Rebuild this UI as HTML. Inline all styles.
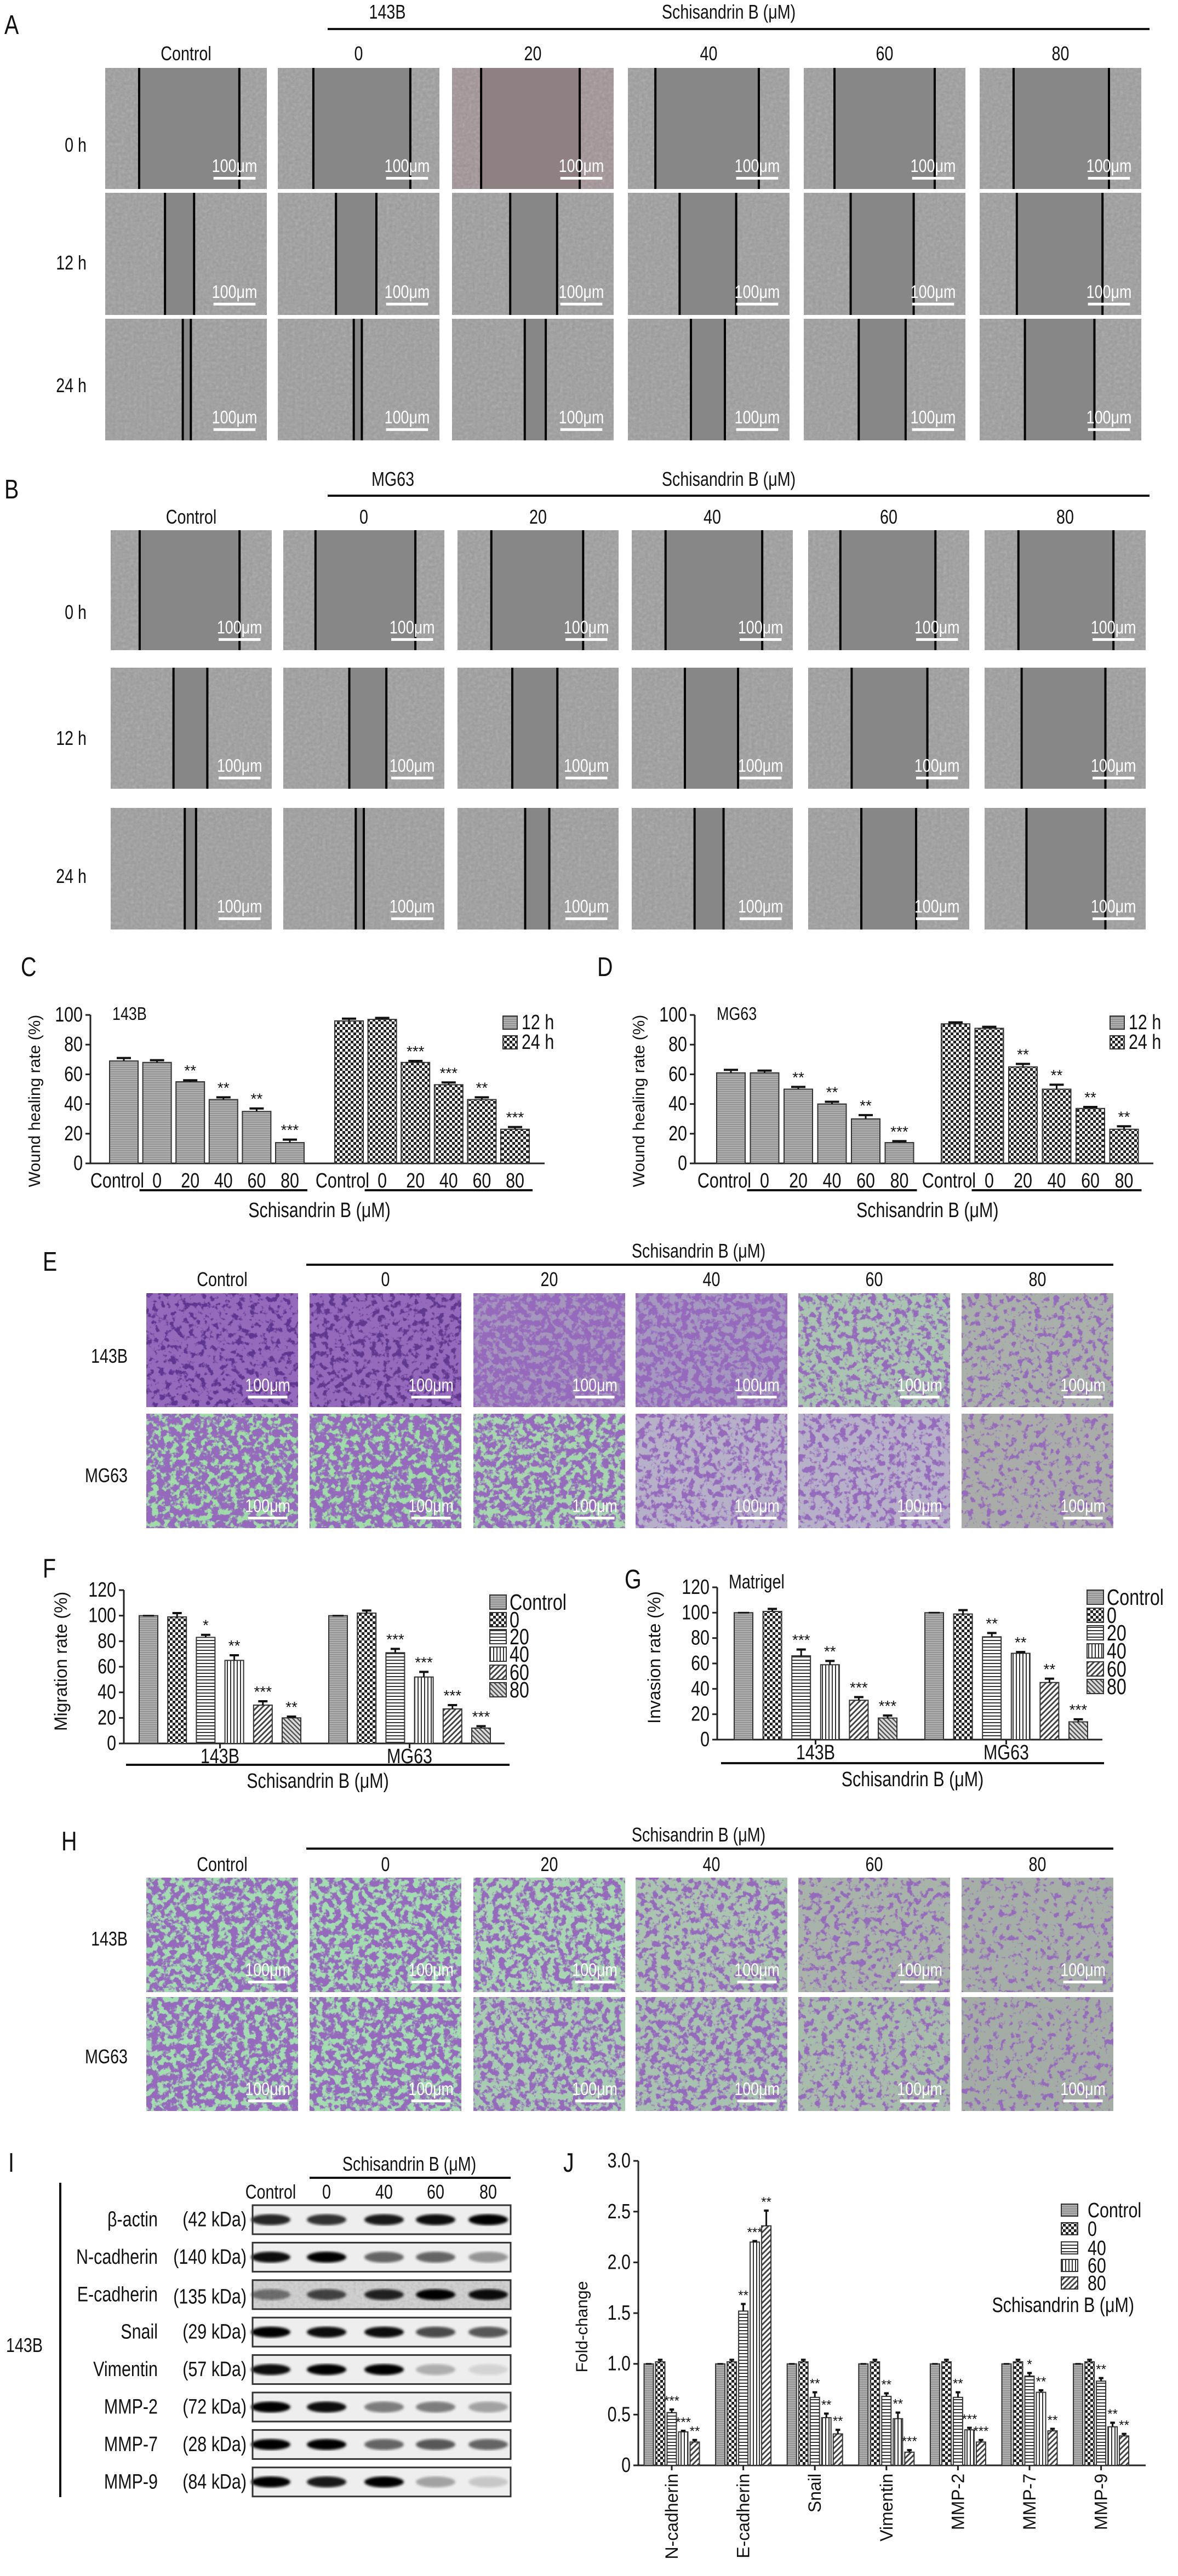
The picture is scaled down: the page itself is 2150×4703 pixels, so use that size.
<!DOCTYPE html>
<html><head><meta charset="utf-8">
<style>
html,body{margin:0;padding:0;background:#fff;}
svg{display:block;}
text{font-family:"Liberation Sans Narrow","Liberation Sans",sans-serif;fill:#111;}
.reg{font-family:"Liberation Sans",sans-serif;}
</style></head>
<body>
<svg id="fig" xmlns="http://www.w3.org/2000/svg" width="2150" height="4703" viewBox="0 0 2150 4703">
<defs>
<filter id="noise" x="0" y="0" width="100%" height="100%"><feTurbulence type="fractalNoise" baseFrequency="0.18" numOctaves="2" seed="3"/><feColorMatrix type="saturate" values="0"/></filter>
<filter id="blur3"><feGaussianBlur stdDeviation="2.5"/></filter>
<pattern id="pGray" width="4" height="4" patternUnits="userSpaceOnUse"><rect width="4" height="4" fill="#b0b0b0"/><rect width="4" height="1.5" fill="#8a8a8a"/></pattern>
<pattern id="pCheck" width="10" height="10" patternUnits="userSpaceOnUse"><rect width="10" height="10" fill="#fff"/><rect width="5" height="5" fill="#222"/><rect x="5" y="5" width="5" height="5" fill="#222"/></pattern>
<pattern id="pH" width="6" height="6" patternUnits="userSpaceOnUse"><rect width="6" height="6" fill="#fff"/><rect width="6" height="2" fill="#333"/></pattern>
<pattern id="pV" width="6" height="6" patternUnits="userSpaceOnUse"><rect width="6" height="6" fill="#fff"/><rect width="2" height="6" fill="#333"/></pattern>
<pattern id="pD" width="7" height="7" patternUnits="userSpaceOnUse" patternTransform="rotate(45)"><rect width="7" height="7" fill="#fff"/><rect width="3" height="7" fill="#444"/></pattern>
<pattern id="pD2" width="6" height="6" patternUnits="userSpaceOnUse" patternTransform="rotate(-45)"><rect width="6" height="6" fill="#ddd"/><rect width="2.5" height="6" fill="#555"/></pattern>
</defs>
</svg>
<script>
// ---------- chart data ----------
const cCats = ["Control","0","20","40","60","80"];
const c12 = [69,68,55,43,35,14];
const c24 = [96,97,68,53,43,23];
const c12Err = [2,1.5,1,1.5,2,2];
const c24Err = [1.5,1,1,1.5,1.5,1.5];
const c12Sig = ["","","**","**","**","***"];
const c24Sig = ["","","***","***","**","***"];
const d12 = [61,61,50,40,30,14];
const d24 = [94,91,65,50,37,23];
const d12Err = [2,1.5,1.5,1.5,2.5,1];
const d24Err = [1,1,2,3,1,2];
const d12Sig = ["","","**","**","**","***"];
const d24Sig = ["","","**","**","**","**"];
const woundTicks = [0,20,40,60,80,100];

const fGroups = ["143B","MG63"];
const fLegend = ["Control","0","20","40","60","80"];
const f143 = [100,99,83,65,30,20];
const fMG = [100,102,71,52,27,12];
const f143Err = [0,3,2,4,3,1];
const fMGErr = [0,2,3,4,3,1.5];
const f143Sig = ["","","*","**","***","**"];
const fMGSig = ["","","***","***","***","***"];
const g143 = [100,101,66,59,31,17];
const gMG = [100,99,81,68,45,14];
const g143Err = [0,2,5,3,2.5,2];
const gMGErr = [0,3,3,1,3,2];
const g143Sig = ["","","***","**","***","***"];
const gMGSig = ["","","**","**","**","***"];
const migTicks = [0,20,40,60,80,100,120];

const jCats = ["N-cadherin","E-cadherin","Snail","Vimentin","MMP-2","MMP-7","MMP-9"];
const jLegend = ["Control","0","40","60","80"];
const jCtrl = [1.0,1.0,1.0,1.0,1.0,1.0,1.0];
const j0 = [1.02,1.02,1.02,1.02,1.02,1.02,1.02];
const j40 = [0.52,1.52,0.67,0.68,0.67,0.88,0.83];
const j60 = [0.33,2.2,0.47,0.46,0.35,0.72,0.38];
const j80 = [0.23,2.36,0.31,0.13,0.23,0.34,0.29];
const jErr40 = [0.03,0.07,0.05,0.03,0.05,0.03,0.03];
const jErr60 = [0.01,0.01,0.04,0.06,0.02,0.02,0.04];
const jErr80 = [0.02,0.15,0.04,0.02,0.02,0.02,0.02];
const jSig40 = ["***","**","**","**","**","*","**"];
const jSig60 = ["***","***","**","**","***","**","**"];
const jSig80 = ["**","**","**","***","***","**","**"];
const jTicks = [0,0.5,1.0,1.5,2.0,2.5,3.0];
const jTickLabels = ["0","0.5","1.0","1.5","2.0","2.5","3.0"];

const blotNames = ["β-actin","N-cadherin","E-cadherin","Snail","Vimentin","MMP-2","MMP-7","MMP-9"];
const blotKda = ["(42 kDa)","(140 kDa)","(135 kDa)","(29 kDa)","(57 kDa)","(72 kDa)","(28 kDa)","(84 kDa)"];
const blotLanes = ["Control","0","40","60","80"];
const blotInt = [
 [0.8,0.75,0.85,0.9,0.95],
 [0.9,0.95,0.55,0.55,0.35],
 [0.45,0.65,0.8,0.95,0.9],
 [0.95,0.9,0.9,0.65,0.6],
 [0.9,0.95,0.95,0.25,0.1],
 [0.95,0.9,0.45,0.45,0.3],
 [0.95,0.95,0.55,0.6,0.55],
 [0.95,0.85,0.95,0.3,0.15]];

// ---------- helpers ----------
const NS="http://www.w3.org/2000/svg";
const svg=document.getElementById('fig');
function mk(tag,at,parent){const e=document.createElementNS(NS,tag);for(const k in at)e.setAttribute(k,at[k]);(parent||svg).appendChild(e);return e;}
function txt(s,x,y,size,anchor,parent,cls){
 const t=mk('text',{'font-size':cls?size:size*1.12,'text-anchor':anchor||'middle'},parent);
 if(cls){t.setAttribute('class',cls);t.setAttribute('x',x);t.setAttribute('y',y);}
 else{t.setAttribute('x',0);t.setAttribute('y',0);t.setAttribute('transform','translate('+x+','+y+') scale(0.8,1)');}
 t.textContent=s;return t;}
function grp(name){const g=mk('g',{});return g;}

// ---------- panel letters ----------
const letters=[["A",8,62],["B",8,910],["C",38,1782],["D",1090,1782],["E",78,2320],["F",78,2880],["G",1140,2900],["H",112,3378],["I",15,3965],["J",1028,3965]];
for(const L of letters){const t=txt(L[0],L[1],L[2],44,'start');

}

// ---------- wound images ----------
const colLabels=["Control","0","20","40","60","80"];
const rowLabels=["0 h","12 h","24 h"];
const aX=[192,507,825,1146,1467,1788], aW=295, aY=[124,352,582], aH=[221,223,222];
const bX=[202,517,835,1153,1475,1797], bW=294, bY=[968,1219,1475], bH=[219,221,222];
const aLines=[[[.21,.83],[.22,.82],[.18,.79],[.17,.81],[.19,.81],[.21,.80]],
 [[.37,.55],[.36,.61],[.36,.65],[.32,.67],[.29,.68],[.23,.76]],
 [[.48,.53],[.47,.52],[.45,.58],[.39,.60],[.34,.63],[.28,.71]]];
const bLines=[[[.18,.80],[.2,.82],[.21,.78],[.21,.81],[.2,.79],[.21,.8]],
 [[.39,.60],[.41,.64],[.34,.62],[.33,.66],[.27,.74],[.23,.75]],
 [[.46,.53],[.45,.5],[.42,.57],[.39,.57],[.33,.67],[.26,.75]]];
function scaleBar(g,x,y,w,h){
 mk('rect',{x:x+w*0.67,y:y+h*0.9,width:w*0.26,height:5,fill:'#fff'},g);
 const t=txt('100μm',x+w*0.8,y+h*0.86,30,'middle',g);t.style.fill='#fff';
}
function woundPanel(prefix,cell,hdrY,lineY,colY,X,W,Y,H,lines,rowYs){
 const g=grp(prefix+'-wound-panel');
 txt(cell,X[1]+200,hdrY,32,'middle',g);
 txt('Schisandrin B (μM)',1330,hdrY,32,'middle',g);
 mk('rect',{x:598,y:lineY-2,width:1500,height:4,fill:'#111'},g);
 X.forEach((x,i)=>txt(colLabels[i],x+W/2,colY,32,'middle',g));
 rowLabels.forEach((r,j)=>txt(r,158,rowYs[j],32,'end',g));
 for(let j=0;j<3;j++)for(let i=0;i<6;i++){
  const x=X[i],y=Y[j],w=W,h=H[j];
  const im=mk('g',{},g);
  
  
  const tint=(prefix==='a'&&i===2&&j===0)?'#a29296':'#9d9d9d';
  mk('rect',{x:x,y:y,width:w,height:h,fill:tint},im);
  mk('rect',{x:x,y:y,width:w,height:h,fill:'#fff',filter:'url(#noise)',opacity:0.35},im);
  const l1=lines[j][i][0],l2=lines[j][i][1];
  mk('rect',{x:x+w*l1,y:y,width:w*(l2-l1),height:h,fill:(prefix==='a'&&i===2&&j===0)?'#8e8083':'#878787'},im);
  mk('rect',{x:x+w*l1-2,y:y,width:4,height:h,fill:'#000'},im);
  mk('rect',{x:x+w*l2-2,y:y,width:4,height:h,fill:'#000'},im);
  scaleBar(im,x,y,w,h);
 }
}
woundPanel('a','143B',34,53,110,aX,aW,aY,aH,aLines,[277,492,716]);
woundPanel('b','MG63',887,905,956,bX,bW,bY,bH,bLines,[1130,1360,1612]);

// ---------- stained images (E & H) ----------
const sX=[267,565,864,1160,1457,1755], sW=277;
let fid=0;
function stainFilter(d){
 const id='st'+(fid++);const t=0.62-0.3*d;
 const f=mk('filter',{id:id,x:0,y:0,width:'100%',height:'100%'},svg.querySelector('defs'));
 mk('feTurbulence',{type:'fractalNoise',baseFrequency:'0.09',numOctaves:'3',seed:String(fid*7)},f);
 mk('feColorMatrix',{type:'matrix',values:'0 0 0 0 0.3 0 0 0 0 0.14 0 0 0 0 0.5 7 0 0 0 '+(-7*t)},f);
 return id;
}
const eCfg=[[['#5e3590',.95],['#61388f',.9],['#a596bd',.72],['#a699c0',.62],['#a9c4b0',.45],['#a9b0aa',.3]],
 [['#9fdca8',.78],['#9fdca8',.78],['#a6d6ae',.66],['#b6b0c8',.45],['#b6b0c8',.4],['#a9aca9',.25]]];
const hCfg=[[['#a3dcb0',.68],['#a3dcb0',.64],['#a8d6b2',.56],['#aac4b0',.44],['#a8b4aa',.32],['#a6aea8',.2]],
 [['#a3dcb0',.72],['#a3dcb0',.68],['#a8ccb2',.54],['#a8c2b0',.5],['#a8bcab',.34],['#a4ada5',.2]]];
function stainPanel(prefix,hdrY,lineY,colY,Y,H,rowYs,cfg){
 const g=grp(prefix+'-transwell-panel');
 txt('Schisandrin B (μM)',1275,hdrY,32,'middle',g);
 mk('rect',{x:559,y:lineY-2,width:1473,height:4,fill:'#111'},g);
 sX.forEach((x,i)=>txt(colLabels[i],x+sW/2,colY,32,'middle',g));
 ['143B','MG63'].forEach((r,j)=>txt(r,233,rowYs[j],32,'end',g));
 for(let j=0;j<2;j++)for(let i=0;i<6;i++){
  const x=sX[i],y=Y[j],h=H[j];
  const im=mk('g',{},g);
  
  
  mk('rect',{x:x,y:y,width:sW,height:h,fill:cfg[j][i][0]},im);
  mk('rect',{x:x,y:y,width:sW,height:h,fill:'#fff',filter:'url(#'+stainFilter(cfg[j][i][1])+')'},im);
  scaleBar(im,x,y,sW,h);
 }
}
stainPanel('e',2296,2309,2348,[2361,2581],[208,209],[2488,2706],eCfg);
stainPanel('h',3362,3375,3416,[3428,3646],[209,208],[3552,3767],hCfg);

// ---------- generic bar drawing ----------
function yAxis(g,x,y0,perUnit,ticks,labels,yMax,fs){
 mk('line',{x1:x,y1:y0,x2:x,y2:y0-yMax*perUnit,stroke:'#222','stroke-width':3},g);
 ticks.forEach((v,k)=>{const y=y0-v*perUnit;
  mk('line',{x1:x-9,y1:y,x2:x,y2:y,stroke:'#222','stroke-width':3},g);
  txt(labels[k],x-14,y+12,fs,'end',g);});
}
function bar(g,name,cx,w,y0,perUnit,v,err,sig,fill,sigSize){
 const b=mk('rect',{x:cx-w/2,y:y0-v*perUnit,width:w,height:v*perUnit,fill:fill,stroke:'#333','stroke-width':2},g);
 
 
 const top=y0-(v+err)*perUnit;
 if(err>0){mk('line',{x1:cx,y1:y0-v*perUnit,x2:cx,y2:top,stroke:'#111','stroke-width':3},g);
  mk('line',{x1:cx-w*0.25,y1:top,x2:cx+w*0.25,y2:top,stroke:'#111','stroke-width':4},g);}
 else mk('line',{x1:cx-w*0.3,y1:y0-v*perUnit,x2:cx+w*0.3,y2:y0-v*perUnit,stroke:'#111','stroke-width':3},g);
 if(sig) txt(sig,cx,top-8,sigSize||28,'middle',g,'reg');
}

// ---------- C / D ----------
function woundChart(prefix,cell,axX,axEnd,y0,perUnit,x0,step,off,v12,v24,e12,e24,s12,s24,legX){
 const g=grp(prefix+'-wound-chart');
 yAxis(g,axX,y0,perUnit,woundTicks,woundTicks.map(String),100,34);
 mk('line',{x1:axX,y1:y0,x2:axEnd,y2:y0,stroke:'#222','stroke-width':3},g);
 txt(cell,axX+40,1862,30,'start',g);
 const yt=txt('Wound healing rate (%)',0,0,30,'middle',g,'reg');yt.setAttribute('transform','translate('+(axX-92)+',2010) rotate(-90)');
 cCats.forEach((c,i)=>{
  bar(g,prefix+'-bar-12h-'+c.toLowerCase(),x0+i*step,52,y0,perUnit,v12[i],e12[i],s12[i],'url(#pGray)');
  bar(g,prefix+'-bar-24h-'+c.toLowerCase(),x0+off+i*step,52,y0,perUnit,v24[i],e24[i],s24[i],'url(#pCheck)');
  txt(c,x0+i*step+(i===0?-12:0),2168,34,'middle',g);
  txt(c,x0+off+i*step+(i===0?-12:0),2168,34,'middle',g);
 });
 mk('rect',{x:x0+step-32,y:2171,width:step*4+64,height:4,fill:'#111'},g);
 mk('rect',{x:x0+off+step-32,y:2171,width:step*4+64,height:4,fill:'#111'},g);
 txt('Schisandrin B (μM)',x0+off/2+step*2.5,2222,34,'middle',g);
 [['12 h','url(#pGray)',1867],['24 h','url(#pCheck)',1903]].forEach(L=>{
  const s=mk('rect',{x:legX,y:L[2]-12,width:26,height:24,fill:L[1],stroke:'#333','stroke-width':2},g);
  
  
  txt(L[0],legX+34,L[2]+12,34,'start',g);});
}
woundChart('c','143B',165,994,2124,2.71,226,60.6,411,c12,c24,c12Err,c24Err,c12Sig,c24Sig,918);
woundChart('d','MG63',1268,2105,2124,2.71,1334,61.5,410,d12,d24,d12Err,d24Err,d12Sig,d24Sig,2026);

// ---------- F / G ----------
const fFills=['url(#pGray)','url(#pCheck)','url(#pH)','url(#pV)','url(#pD)','url(#pD2)'];
function migChart(prefix,title,axX,axEnd,y0,perUnit,x0,step,off,v1,v2,e1,e2,s1,s2,legX,legY,ul){
 const g=grp(prefix+'-chart');
 yAxis(g,axX,y0,perUnit,migTicks,migTicks.map(String),120,34);
 mk('line',{x1:axX,y1:y0,x2:axEnd,y2:y0,stroke:'#222','stroke-width':3},g);
 const yt=txt(title,0,0,32,'middle',g,'reg');yt.setAttribute('transform','translate('+(axX-104)+','+(y0-150)+') rotate(-90)');
 fLegend.forEach((c,i)=>{
  bar(g,prefix+'-bar-143b-'+c.toLowerCase(),x0+i*step,34,y0,perUnit,v1[i],e1[i],s1[i],fFills[i]);
  bar(g,prefix+'-bar-mg63-'+c.toLowerCase(),x0+off+i*step,34,y0,perUnit,v2[i],e2[i],s2[i],fFills[i]);
  const s=mk('rect',{x:legX,y:legY[i]-13,width:30,height:26,fill:fFills[i],stroke:'#333','stroke-width':2},g);
  
  
  txt(c,legX+36,legY[i]+14,36,'start',g);
 });
 fGroups.forEach((gr,k)=>{const cx=x0+k*off+step*2.5;
  mk('line',{x1:cx,y1:y0,x2:cx,y2:y0+9,stroke:'#222','stroke-width':3},g);
  txt(gr,cx,y0+36,34,'middle',g);});
 mk('rect',{x:ul[0],y:ul[1],width:ul[2]-ul[0],height:4,fill:'#111'},g);
 txt('Schisandrin B (μM)',(ul[0]+ul[2])/2,ul[1]+44,34,'middle',g);
 return g;
}
migChart('f','Migration rate (%)',226,921,3183,2.333,271,52.2,346,f143,fMG,f143Err,fMGErr,f143Sig,fMGSig,894,[2925,2957,2988,3020,3053,3085],[230,3220,930]);
const gg=migChart('g','Invasion rate (%)',1309,2012,3176,2.317,1357,52.6,348,g143,gMG,g143Err,gMGErr,g143Sig,gMGSig,1984,[2916,2949,2981,3014,3047,3079],[1316,3217,2015]);
txt('Matrigel',1330,2900,32,'start',gg);

// ---------- I western blot ----------
const gi=grp('i-western-blot');
txt('Schisandrin B (μM)',747,3963,32,'middle',gi);
mk('rect',{x:565,y:3974,width:367,height:4,fill:'#111'},gi);
const laneX=[494,596,701,795,891];
blotLanes.forEach((l,i)=>txt(l,laneX[i],4014,32,'middle',gi));
mk('rect',{x:108,y:3985,width:4,height:574,fill:'#111'},gi);
txt('143B',11,4294,32,'start',gi);
blotNames.forEach((n,r)=>{
 const y=4026+r*68.4,h=53;
 txt(n,288,y+h/2+12,34,'end',gi);
 txt(blotKda[r],450,y+h/2+12+(r===2?4:0),34,'end',gi);
 const bx=mk('g',{},gi);
 
 
 mk('rect',{x:461,y:y,width:471,height:h,fill:r===2?'#d0d0d0':'#eeeeee'},bx);
 if(r===2)mk('rect',{x:461,y:y,width:471,height:h,fill:'#fff',filter:'url(#noise)',opacity:0.4},bx);
 blotInt[r].forEach((v,i)=>{
  mk('ellipse',{cx:laneX[i],cy:y+h/2,rx:36,ry:10,fill:'#000',opacity:Math.min(1,v*1.05),filter:'url(#blur3)'},bx);
 });
 mk('rect',{x:461,y:y,width:471,height:h,fill:'none',stroke:'#333','stroke-width':3},bx);
});

// ---------- J ----------
const gj=grp('j-fold-change-chart');
const jy0=4501,jpu=185.3,jx=1165,jg0=1184,jstep=21,jgap=130.6;
yAxis(gj,jx,jy0,jpu,jTicks,jTickLabels,3.0,34);
mk('line',{x1:jx,y1:jy0,x2:2091,y2:jy0,stroke:'#222','stroke-width':3},gj);
const jt=txt('Fold-change',0,0,30,'middle',gj,'reg');jt.setAttribute('transform','translate(1072,4248) rotate(-90)');
const jFills=['url(#pGray)','url(#pCheck)','url(#pH)','url(#pV)','url(#pD)'];
const jSeries=[jCtrl,j0,j40,j60,j80];
const jErrs=[jCats.map(()=>0),jCats.map(()=>0.02),jErr40,jErr60,jErr80];
const jSigs=[jCats.map(()=>""),jCats.map(()=>""),jSig40,jSig60,jSig80];
jCats.forEach((c,k)=>{
 jSeries.forEach((s,i)=>{
  bar(gj,'j-bar-'+c.toLowerCase()+'-'+jLegend[i].toLowerCase(),jg0+k*jgap+i*jstep,17,jy0,jpu,s[k],jErrs[i][k],jSigs[i][k],jFills[i],24);
 });
 const cx=jg0+k*jgap+2*jstep;
 mk('line',{x1:cx,y1:jy0,x2:cx,y2:jy0+9,stroke:'#222','stroke-width':3},gj);
 const t=txt(c,0,0,32,'end',gj,'reg');t.setAttribute('transform','translate('+(cx+11)+',4516) rotate(-90)');
});
jLegend.forEach((c,i)=>{const y=[4035,4069,4104,4136,4168][i];
 const s=mk('rect',{x:1937,y:y-11,width:30,height:22,fill:jFills[i],stroke:'#333','stroke-width':2},gj);
 
 
 txt(c,1985,y+13,34,'start',gj);});
txt('Schisandrin B (μM)',2070,4221,34,'end',gj);
</script>
</body></html>
